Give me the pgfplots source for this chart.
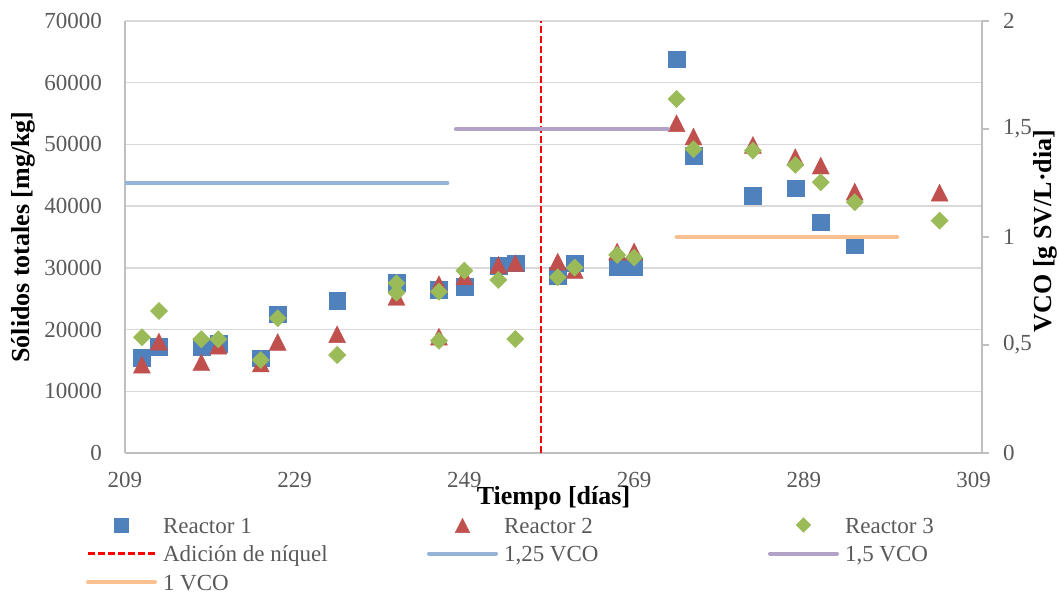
\documentclass[border=0pt]{standalone}
\usepackage{fontspec}
\setmainfont{Liberation Serif}
\usepackage{pgfplots}
\pgfplotsset{compat=1.18}

\definecolor{r1blue}{RGB}{79,129,189}
\definecolor{r2red}{RGB}{192,80,77}
\definecolor{r3green}{RGB}{155,187,89}
\definecolor{vcoblue}{RGB}{149,179,215}
\definecolor{vcopurple}{RGB}{179,162,199}
\definecolor{vcoorange}{RGB}{250,192,144}
\definecolor{ticgray}{RGB}{89,89,89}
\definecolor{axgray}{RGB}{191,191,191}
\definecolor{gridgray}{RGB}{217,217,217}

\newcommand\ticfont{\fontsize{23}{27}\selectfont}
\newcommand\titfont{\fontsize{26}{31}\selectfont\bfseries}
\newcommand\legtext[1]{\makebox[200pt][l]{\color{ticgray}#1}}

\pgfplotsset{
  legmark/.style={legend image code/.code={%
    \draw[mark repeat=2,mark phase=2,##1,/tikz/every mark/.append style={scale=0.85}]
      plot coordinates {(0pt,0pt) (35.5pt,0pt) (71pt,0pt)};}},
  legline/.style={legend image code/.code={%
    \draw[##1] (2pt,0pt) -- (69pt,0pt);}},
  common/.style={
    scale only axis, width=857pt, height=432pt,
    xmin=209, xmax=310, ymin=0,
    scaled x ticks=false, scaled y ticks=false,
    tick label style={font=\ticfont, text=ticgray, inner sep=0pt},
    axis line style={draw=axgray, line width=1.3pt},
  },
}

\begin{document}
\begin{tikzpicture}
% primary axis: total solids of the three reactors
\begin{axis}[common, ymax=70000,
  axis x line*=bottom, axis y line*=left,
  xtick={209,229,249,269,289,309},
  xticklabels={209,229,249,269,289,309},
  ytick={0,10000,20000,30000,40000,50000,60000,70000},
  yticklabels={0,10000,20000,30000,40000,50000,60000,70000},
  major tick length=0pt,
  xticklabel style={anchor=north, yshift=-19pt},
  yticklabel style={anchor=east, xshift=-23pt},
  ymajorgrids, grid style={draw=gridgray, line width=1.3pt},
  xlabel={Tiempo [días]}, ylabel={Sólidos totales [mg/kg]},
  every axis x label/.style={at={(axis description cs:0.5,-0.1042)}, anchor=center, font=\titfont},
  every axis y label/.style={at={(axis description cs:-0.1190,0.5)}, anchor=center, rotate=90, font=\titfont},
  legend columns=3, legend cell align=left,
  legend style={at={(axis description cs:-0.0455,-0.1412)}, anchor=north west,
    draw=none, fill=none, inner sep=0pt, outer sep=0pt, font=\ticfont,
    nodes={inner sep=0pt, text height=19pt, text depth=3pt}, row sep=6.5pt,
    /tikz/every odd column/.append style={column sep=6pt},
    /tikz/every even column/.append style={column sep=64pt}},
]
\addplot[only marks, mark=square*, mark size=8.4pt, color=r1blue, legmark] coordinates {
  (211,15500) (213,17200) (218,17200) (220,17650) (225,15350) (227,22500)
  (234,24700) (241,27650) (246,26400) (249,26950) (253,30360) (255,30740)
  (260,28690) (262,30740) (267,30200) (269,30200) (274,63800) (276,48190)
  (283,41700) (288,42900) (291,37390) (295,33700)};
\addlegendentry{\legtext{Reactor 1}}
\addplot[only marks, mark=triangle*, mark size=9.8pt, color=r2red,
  mark options={yshift=-2.8pt, yscale=1.15}, legmark] coordinates {
  (211,14300) (213,18040) (218,14700) (220,17390) (225,14500) (227,17990)
  (234,19240) (241,25300) (246,27340) (246,18850) (249,28600) (253,30470)
  (255,30740) (260,31000) (262,29660) (267,32630) (269,32630) (274,53430)
  (276,51270) (283,49920) (288,47930) (291,46570) (295,42350) (305,42190)};
\addlegendentry{\legtext{Reactor 2}}
\addplot[only marks, mark=square*, mark size=6.1pt, color=r3green,
  mark options={rotate=45}, legmark] coordinates {
  (211,18750) (213,23010) (218,18430) (220,18430) (225,15070) (227,21830)
  (234,15880) (241,27500) (241,25980) (246,26140) (246,18200) (249,29550)
  (253,28040) (255,18480) (260,28470) (262,30040) (267,32090) (269,31660)
  (274,57370) (276,49220) (283,49000) (288,46680) (291,43870) (295,40630)
  (305,37650)};
\addlegendentry{\legtext{Reactor 3}}
\addplot[red, line width=2.5pt, dash pattern=on 7pt off 3pt, legline]
  coordinates {(258,0) (258,70000)};
\addlegendentry{\legtext{Adición de níquel}}
\addlegendimage{vcoblue, line width=4pt, line cap=round, legline}
\addlegendentry{\legtext{1,25 VCO}}
\addlegendimage{vcopurple, line width=4pt, line cap=round, legline}
\addlegendentry{\legtext{1,5 VCO}}
\addlegendimage{vcoorange, line width=4pt, line cap=round, legline}
\addlegendentry{\legtext{1 VCO}}
\end{axis}

% secondary axis: organic loading rate steps
\begin{axis}[common, ymax=2,
  hide x axis, axis y line*=right,
  ytick={0,0.5,1,1.5,2},
  yticklabels={0,{0,5},1,{1,5},2},
  tick align=outside, major tick length=7pt,
  ytick style={draw=axgray, line width=1.3pt},
  yticklabel style={anchor=west, xshift=14pt},
  ylabel={VCO [g SV/L·dia]},
  every axis y label/.style={at={(axis description cs:1.0735,0.514)}, anchor=center, rotate=90, font=\titfont},
]
\addplot[vcoblue, line width=4pt, line cap=round] coordinates {(209,1.25) (247,1.25)};
\addplot[vcopurple, line width=4pt, line cap=round] coordinates {(248,1.5) (273,1.5)};
\addplot[vcoorange, line width=4pt, line cap=round] coordinates {(274,1) (300,1)};
\end{axis}
\pgfresetboundingbox
\path[use as bounding box] (-125pt,-143pt) rectangle (934pt,453pt);
\end{tikzpicture}
\end{document}
